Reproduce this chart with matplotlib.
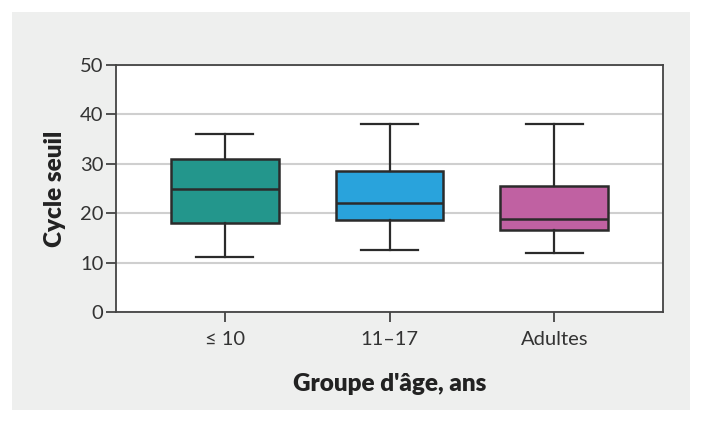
import matplotlib.pyplot as plt
from matplotlib.patches import Rectangle

# values
groups = ["\u2264 10", "11\u201317", "Adultes"]
whislo = [11.2, 12.5, 11.9]
q1 = [18.0, 18.7, 16.5]
med = [25.0, 22.1, 18.8]
q3 = [30.9, 28.6, 25.5]
whishi = [36.1, 38.0, 38.1]
colors = ["#23968c", "#29a3dc", "#c061a2"]

plt.rcParams['font.family'] = ['Lato', 'DejaVu Sans']

fig = plt.figure(figsize=(7.03, 4.23), dpi=100)
fig.patch.set_facecolor("white")
fig.patches.append(Rectangle((12/703, 13/423), 678/703, 398/423,
                             transform=fig.transFigure, facecolor="#eeefee",
                             edgecolor="none", zorder=-10))

ax = fig.add_axes([116/703, 111/423, 547/703, 247/423])

stats = []
for i in range(len(groups)):
    stats.append(dict(label=groups[i], whislo=whislo[i], q1=q1[i], med=med[i],
                      q3=q3[i], whishi=whishi[i], fliers=[]))

edge = "#2b2b2b"
bp = ax.bxp(stats, positions=range(len(groups)), widths=0.655, capwidths=0.345,
            patch_artist=True, showfliers=False,
            boxprops=dict(edgecolor=edge, linewidth=1.8),
            medianprops=dict(color=edge, linewidth=1.8),
            whiskerprops=dict(color=edge, linewidth=1.6),
            capprops=dict(color=edge, linewidth=1.6))
for patch, c in zip(bp["boxes"], colors):
    patch.set_facecolor(c)

ax.set_xlim(-0.66, 2.66)
ax.set_ylim(0, 50)
ax.set_yticks([0, 10, 20, 30, 40, 50])
ax.yaxis.grid(True, color="#cfcfcf", linewidth=1.5)
ax.set_axisbelow(True)
for s in ax.spines.values():
    s.set_color("#444444")
    s.set_linewidth(1.3)
ax.tick_params(axis="both", colors="#444444", width=1.3, length=7,
               labelsize=14.5, labelcolor="#333333")
ax.tick_params(axis="x", pad=7)
ax.tick_params(axis="y", pad=2)

ax.set_xlabel("Groupe d'âge, ans", fontsize=17.5, fontweight="heavy",
              color="#222222", labelpad=18)
ax.set_ylabel("Cycle seuil", fontsize=17.5, fontweight="heavy",
              color="#222222", labelpad=10)

fig.savefig("out.png", dpi=100)
